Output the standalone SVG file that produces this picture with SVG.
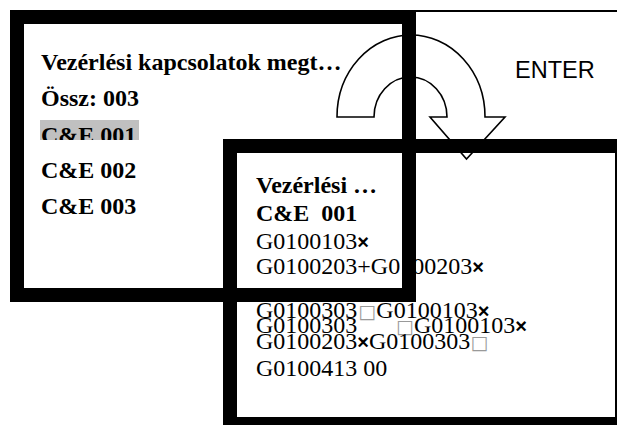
<svg xmlns="http://www.w3.org/2000/svg" width="617" height="425" viewBox="0 0 617 425">
<style>
.fr{fill:none;stroke:#000;stroke-width:14}
.b{font-family:"Liberation Serif","Times New Roman",serif;font-weight:bold;font-size:24px;fill:#000;white-space:pre}
.r{font-family:"Liberation Serif","Times New Roman",serif;font-size:24px;fill:#000;white-space:pre}
.x{font-family:"Liberation Sans",Arial,sans-serif;font-weight:bold;font-size:20px}
.q{font-family:"DejaVu Sans",sans-serif;font-size:19px;fill:#999}
.s{font-family:"Liberation Sans",Arial,sans-serif;font-size:23.5px;fill:#000}
</style>
<defs>
<clipPath id="hl"><rect x="40" y="120" width="99" height="20"/></clipPath>
</defs>
<g id="connectors">
<path d="M337,117 A74,82 0 0 1 485,117 L505,117 L466.5,159 L430,117 L447,117 A36.5,40 0 0 0 374,117 Z" fill="#fff" stroke="#000" stroke-width="1.6" stroke-linejoin="miter"/>
</g>
<g id="screen2">
<rect class="fr" x="230" y="146" width="392" height="278"/>
<text class="b" x="256" y="193">Vezérlési …</text>
<text class="b" x="256" y="221">C&amp;E  001</text>
<text class="r" x="256" y="249">G0100103<tspan class="x">×</tspan></text>
<text class="r" x="256" y="274">G0100203+G0100203<tspan class="x">×</tspan></text>
<text class="r" x="256" y="318">G0100303<tspan class="q" dx="1">□</tspan>G0100103<tspan class="x">×</tspan></text>
<text class="r" x="256" y="333">G0100303<tspan class="q" x="396">□</tspan>G0100103<tspan class="x">×</tspan></text>
<text class="r" x="256" y="349">G0100203<tspan class="x">×</tspan>G0100303<tspan class="q">□</tspan></text>
<text class="r" x="256" y="376">G0100413 00</text>
</g>
<g id="screen1">
<rect class="fr" x="17" y="17" width="392" height="278"/>
<text class="b" x="41" y="70">Vezérlési kapcsolatok megt…</text>
<text class="b" x="41" y="106">Össz: 003</text>
<rect x="40" y="120" width="99" height="20" fill="#c0c0c0"/>
<text class="b" x="41" y="142.5" clip-path="url(#hl)">C&amp;E 001</text>
<text class="b" x="41" y="178">C&amp;E 002</text>
<text class="b" x="41" y="214">C&amp;E 003</text>
</g>
<g id="enter">
<line x1="416" y1="11" x2="617" y2="11" stroke="#000" stroke-width="2"/>
<text class="s" x="515" y="78">ENTER</text>
</g>
</svg>
